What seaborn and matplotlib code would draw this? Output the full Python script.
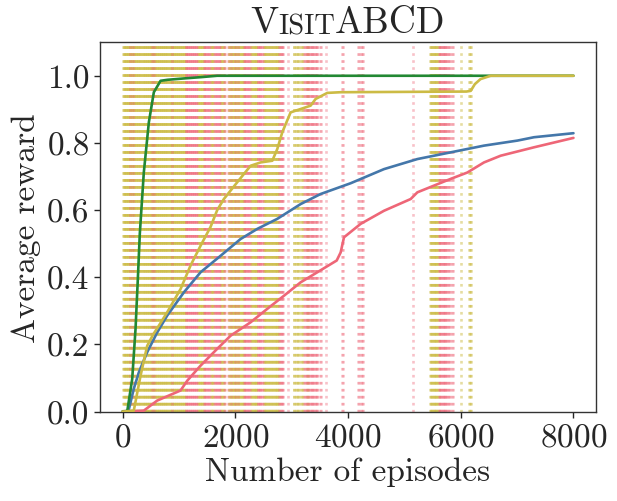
import numpy as np
import pandas as pd
import matplotlib
matplotlib.use("Agg")
import matplotlib.pyplot as plt
import seaborn as sns

# Curves (episode, average reward)
green_ep = [0, 83, 172, 231, 272, 307, 378, 467, 556, 675, 800, 1088, 1400, 1680, 3000, 5000, 8000]
green_rw = [0, 0, 0.097, 0.246, 0.395, 0.53, 0.712, 0.861, 0.951, 0.985, 0.988, 0.992, 0.996, 1.0, 1.0, 1.0, 1.0]

yellow_ep = [0, 200, 320, 438, 545, 645, 793, 1030, 1207, 1385, 1562, 1680, 1798, 2035, 2272, 2450,
             2657, 2746, 2835, 2982, 3160, 3337, 3426, 3633, 3870, 5000, 6100, 6177, 6250, 6350, 6532, 8000]
yellow_rw = [0, 0.003, 0.107, 0.196, 0.23, 0.256, 0.296, 0.365, 0.435, 0.494, 0.55, 0.6, 0.633, 0.683, 0.732, 0.742,
             0.747, 0.782, 0.832, 0.891, 0.901, 0.911, 0.931, 0.949, 0.951, 0.952, 0.953, 0.955, 0.975, 0.99, 1.0, 1.0]

blue_ep = [0, 107, 200, 290, 438, 616, 793, 1088, 1385, 1740, 2095, 2390, 2746, 3160, 3515, 4047,
           4638, 5231, 5822, 6413, 7006, 7300, 8000]
blue_rw = [0, 0.003, 0.068, 0.117, 0.177, 0.236, 0.286, 0.355, 0.415, 0.464, 0.514, 0.544, 0.574, 0.618, 0.648, 0.68,
           0.722, 0.752, 0.772, 0.792, 0.807, 0.817, 0.829]

red_ep = [0, 378, 616, 1030, 1148, 1385, 1680, 1917, 2272, 2568, 2864, 3160, 3456, 3800, 3870, 3929,
          4224, 4638, 5112, 5231, 5526, 5822, 6118, 6413, 6709, 7300, 8000]
red_rw = [0, 0.003, 0.033, 0.063, 0.092, 0.137, 0.187, 0.226, 0.266, 0.306, 0.345, 0.385, 0.415, 0.45, 0.474, 0.519,
          0.559, 0.598, 0.633, 0.653, 0.673, 0.693, 0.712, 0.742, 0.762, 0.787, 0.815]

# Episodes at which the dotted vertical markers are drawn
yellow_marks = [8, 19, 31, 42, 55, 66, 79, 90, 103, 114, 126, 139, 150, 163, 175, 186, 199, 211, 222, 235,
                247, 258, 271, 283, 294, 307, 319, 330, 343, 355, 366, 379, 391, 402, 415, 427, 438, 451,
                463, 474, 487, 499, 510, 523, 535, 546, 559, 571, 582, 595, 607, 618, 631, 643, 654, 667,
                679, 690, 703, 715, 726, 739, 751, 762, 775, 787, 798, 811, 823, 834, 847, 859, 870, 883,
                895, 906, 919, 931, 942, 955, 967, 978, 991, 1003, 1014, 1027, 1039, 1050, 1063, 1075,
                1086, 1099, 1111, 1120,
                1331, 1344, 1356, 1369, 1381, 1394, 1406, 1419, 1431, 1440,
                1562, 1575, 1588, 1601, 1614,
                1742, 1756, 1770, 1784, 1797,
                1883, 1896, 1908, 1921, 1934, 1946, 1959, 1972, 1984, 1997, 2010, 2022, 2035, 2048,
                2060, 2073, 2086, 2098, 2111, 2124, 2136, 2148,
                2272, 2285, 2298, 2311, 2324, 2337, 2350, 2363, 2376, 2388,
                2502, 2515, 2528, 2541, 2554, 2567, 2580, 2593, 2606, 2619, 2632, 2645, 2658, 2671,
                2684, 2697, 2710, 2723, 2736, 2749, 2762, 2775,
                3034, 3051, 3072, 3090, 3115, 3138, 3160, 3182, 3200, 3270, 3290,
                5452, 5465, 5478, 5491, 5504, 5517, 5530, 5543, 5556, 5569, 5582, 5595, 5606,
                6000, 6145, 6165, 6188]

red_marks = [140, 190, 520, 555, 880,
             1120, 1132, 1144, 1156, 1168, 1180, 1192, 1204, 1216, 1228, 1240, 1252, 1264, 1276, 1288,
             1300, 1312, 1325,
             1445, 1458, 1471, 1484, 1497, 1510, 1523, 1536, 1549,
             1625, 1638, 1651, 1664, 1677, 1690, 1703, 1716, 1729,
             1795, 1812, 1865, 1930, 1990, 2040,
             2155, 2168, 2181, 2194, 2207, 2220, 2233, 2246, 2259,
             2395, 2408, 2421, 2434, 2447, 2460, 2473, 2486,
             2785, 2798, 2811, 2824, 2837, 2850, 2930,
             3215, 3232, 3250, 3280, 3295, 3310, 3325, 3340, 3355, 3370, 3385, 3400, 3415, 3430, 3445, 3458,
             3505, 3525, 3603, 3890, 3920,
             4175, 4200, 4230, 4255, 4275, 5148,
             5612, 5625, 5638, 5651, 5664, 5677, 5690, 5703, 5716, 5729, 5742, 5755, 5768,
             5790, 5815, 5840, 5856]

methods = ["blue", "red", "green", "yellow"]
colors = {"blue": "#4477AA", "red": "#EE6677", "green": "#228833", "yellow": "#CCBB44"}

frames = []
for name, ep, rw in [("blue", blue_ep, blue_rw), ("red", red_ep, red_rw),
                     ("green", green_ep, green_rw), ("yellow", yellow_ep, yellow_rw)]:
    frames.append(pd.DataFrame({"episode": ep, "reward": rw, "method": name}))
df = pd.concat(frames, ignore_index=True)

sns.set_style("ticks")
plt.rcParams["font.family"] = "serif"
plt.rcParams["font.serif"] = ["cmr10", "DejaVu Serif"]
plt.rcParams["mathtext.fontset"] = "cm"
plt.rcParams["axes.formatter.use_mathtext"] = True
plt.rcParams["axes.edgecolor"] = "#333333"
plt.rcParams["axes.linewidth"] = 1.0

fig = plt.figure(figsize=(6.17, 5.02), dpi=100)
ax = fig.add_axes([0.162, 0.178, 0.804, 0.736])

xt = ax.get_xaxis_transform()
ax.vlines(yellow_marks, 0, 1, transform=xt, colors=colors["yellow"], linestyles=":",
          linewidth=1.9, alpha=0.5, zorder=1)
ax.vlines(red_marks, 0, 1, transform=xt, colors=colors["red"], linestyles=":",
          linewidth=1.9, alpha=0.4, zorder=1)

sns.lineplot(data=df, x="episode", y="reward", hue="method", hue_order=methods,
             palette=colors, estimator=None, linewidth=1.9, legend=False, ax=ax, zorder=3)

ax.set_xlim(-400, 8400)
ax.set_ylim(0, 1.1)
ax.set_xticks([0, 2000, 4000, 6000, 8000])
ax.set_yticks([0.0, 0.2, 0.4, 0.6, 0.8, 1.0])
ax.set_yticklabels(["0.0", "0.2", "0.4", "0.6", "0.8", "1.0"])
ax.tick_params(labelsize=24, length=4, width=1, direction="out")
ax.set_xlabel("Number of episodes", fontsize=24, labelpad=4)
ax.set_ylabel("Average reward", fontsize=24, labelpad=4)
for s in ax.spines.values():
    s.set_visible(True)

# Title in small caps: "V" + "ISIT" (smaller) + "ABCD"
t1 = ax.annotate("V", xy=(0.5, 1), xycoords="axes fraction", xytext=(0, 3),
                 textcoords="offset points", ha="left", va="bottom", fontsize=27)
t2 = ax.annotate("ISIT", xy=(1, 0), xycoords=t1, ha="left", va="bottom", fontsize=20.5)
t3 = ax.annotate("ABCD", xy=(1, 0), xycoords=t2, ha="left", va="bottom", fontsize=27)
fig.canvas.draw()
r = fig.canvas.get_renderer()
w = t3.get_window_extent(r).x1 - t1.get_window_extent(r).x0
t1.xyann = (-w / 2 * 72 / fig.dpi, 2)

fig.savefig("out.png", dpi=100)
